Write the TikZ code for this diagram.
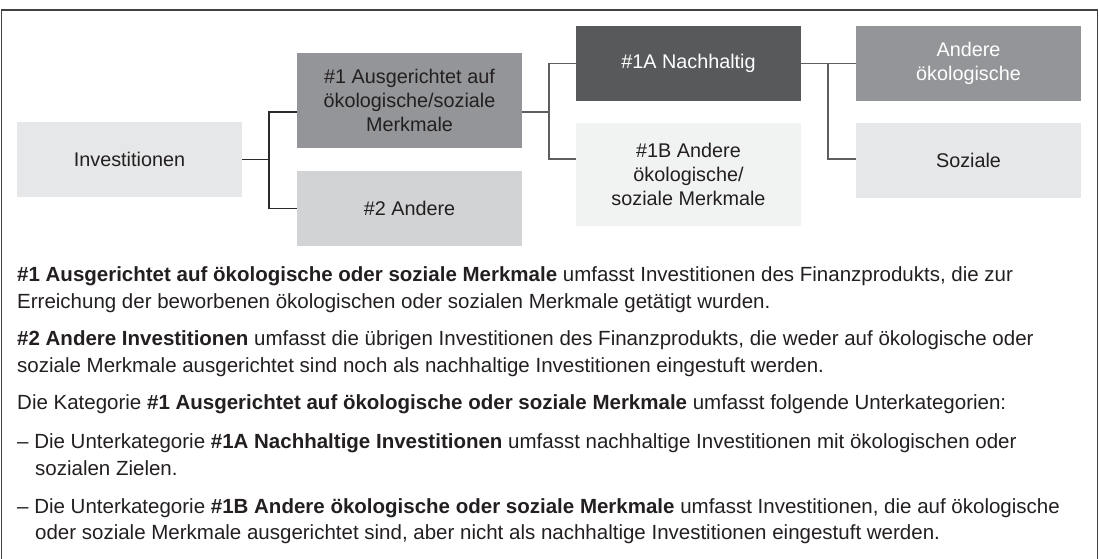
\documentclass[tikz,border=0pt]{standalone}
\usepackage{fontspec}
\setmainfont{Liberation Sans}
\definecolor{txt}{HTML}{231F20}
\definecolor{gLight}{HTML}{E6E7E8}
\definecolor{gPale}{HTML}{F1F2F2}
\definecolor{gMid}{HTML}{D1D3D4}
\definecolor{gDark}{HTML}{939598}
\definecolor{gDeep}{HTML}{58595B}
\definecolor{lineA}{HTML}{2A2A2A}
\definecolor{lineB}{HTML}{5E5F61}
\begin{document}
\begin{tikzpicture}[x=1pt,y=-1pt,
  box/.style={rectangle, minimum width=225pt, inner sep=0pt, align=center,
    font=\fontsize{19.8}{24}\selectfont, text=txt},
  whitetxt/.style={text=white},
  connA/.style={line width=1.8pt, draw=lineA},
  connB/.style={line width=1.8pt, draw=lineB},
  frame/.style={line width=1.1pt, draw=txt!85},
  body/.style={anchor=base west, inner sep=0pt, font=\fontsize{20.5}{27}\selectfont, text=txt}]
\useasboundingbox (0,0) rectangle (1099,558);
\clip (0,0) rectangle (1099,558);
\draw[frame] (1.5,10) rectangle (1097.5,620);

% boxes
\node[box, fill=gLight, minimum height=75pt] (inv) at (129.5,159.5) {Investitionen};
\node[box, fill=gDark, minimum height=95pt] (n1) at (409.5,100.5) {\#1 Ausgerichtet auf\\ökologische/soziale\\Merkmale};
\node[box, fill=gMid, minimum height=75pt] (n2) at (409.5,208.5) {\#2 Andere};
\node[box, fill=gDeep, whitetxt, minimum height=75pt] (n1a) at (688.5,63.5) {\#1A Nachhaltig};
\node[box, fill=gPale, minimum height=103pt] (n1b) at (688.5,174.5) {\#1B Andere\\ökologische/\\soziale Merkmale};
\node[box, fill=gDark, whitetxt, minimum height=75pt] (oek) at (968.5,63.5) {Andere\\ökologische};
\node[box, fill=gLight, minimum height=75pt] (soz) at (968.5,160.5) {Soziale};

% connectors
\coordinate (j1) at (269,159.5);
\coordinate (j2) at (549,112);
\coordinate (j3) at (828,63.5);
\draw[connA] (inv.east) -- (j1);
\draw[connA] ([yshift=-11.5pt]n1.west) -| (j1) |- (n2.west);
\draw[connB] ([yshift=-11.5pt]n1.east) -- (j2);
\draw[connB] (n1a.west) -| (j2) |- ([yshift=15.5pt]n1b.west);
\draw[connB] (n1a.east) -- (oek.west);
\draw[connB] (j3) |- ([yshift=1.5pt]soz.west);

% body text
\node[body] (p1a) at (17,281) {\textbf{\#1 Ausgerichtet auf ökologische oder soziale Merkmale} umfasst Investitionen des Finanzprodukts, die zur};
\node[body] (p1b) at (17,308) {Erreichung der beworbenen ökologischen oder sozialen Merkmale getätigt wurden.};
\node[body] (p2a) at (17,345) {\textbf{\#2 Andere Investitionen} umfasst die übrigen Investitionen des Finanzprodukts, die weder auf ökologische oder};
\node[body] (p2b) at (17,372) {soziale Merkmale ausgerichtet sind noch als nachhaltige Investitionen eingestuft werden.};
\node[body] (p3) at (17,409) {Die Kategorie \textbf{\#1 Ausgerichtet auf ökologische oder soziale Merkmale} umfasst folgende Unterkategorien:};
\node[body] (p4a) at (17,448) {– Die Unterkategorie \textbf{\#1A Nachhaltige Investitionen} umfasst nachhaltige Investitionen mit ökologischen oder};
\node[body] (p4b) at (35,475) {sozialen Zielen.};
\node[body] (p5a) at (17,513) {– Die Unterkategorie \textbf{\#1B Andere ökologische oder soziale Merkmale} umfasst Investitionen, die auf ökologische};
\node[body] (p5b) at (35,539) {oder soziale Merkmale ausgerichtet sind, aber nicht als nachhaltige Investitionen eingestuft werden.};
\end{tikzpicture}
\end{document}
